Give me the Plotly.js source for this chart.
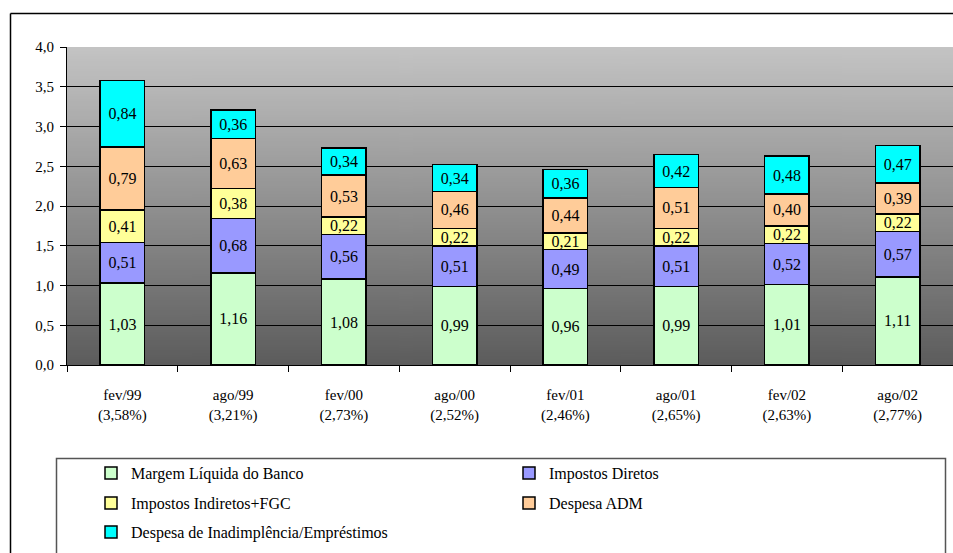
<!DOCTYPE html>
<html>
<head>
<meta charset="utf-8">
<script src="https://cdn.plot.ly/plotly-3.0.1.min.js"></script>
<style>
html,body{margin:0;padding:0;background:#fff;}
#chart{width:953px;height:553px;}
</style>
</head>
<body>
<div id="chart"></div>
<script>
const periods = ['fev/99','ago/99','fev/00','ago/00','fev/01','ago/01','fev/02','ago/02'];
const totals = ['3,58%','3,21%','2,73%','2,52%','2,46%','2,65%','2,63%','2,77%'];

const margem = [1.03, 1.16, 1.08, 0.99, 0.96, 0.99, 1.01, 1.11];
const impDiretos = [0.51, 0.68, 0.56, 0.51, 0.49, 0.51, 0.52, 0.57];
const impIndiretos = [0.41, 0.38, 0.22, 0.22, 0.21, 0.22, 0.22, 0.22];
const despAdm = [0.79, 0.63, 0.53, 0.46, 0.44, 0.51, 0.40, 0.39];
const despInad = [0.84, 0.36, 0.34, 0.34, 0.36, 0.42, 0.48, 0.47];

const seriesNames = ['Margem Líquida do Banco','Impostos Diretos','Impostos Indiretos+FGC','Despesa ADM','Despesa de Inadimplência/Empréstimos'];
const seriesColors = ['#CCFFCC','#9999FF','#FFFF99','#FFCC99','#00FFFF'];
const seriesValues = [margem, impDiretos, impIndiretos, despAdm, despInad];
const seriesLegend = ['legend','legend','legend2','legend2','legend3'];

const categories = periods.map((p, i) => p + '<br>(' + totals[i] + ')');

const FONT = 'Liberation Serif';

const traces = seriesValues.map((vals, k) => ({
  type: 'bar',
  name: seriesNames[k],
  legend: seriesLegend[k],
  x: categories,
  y: vals,
  marker: {color: seriesColors[k], line: {color: '#000', width: 1.5}},
  texttemplate: '%{y:.2f}',
  textposition: 'inside',
  insidetextanchor: 'middle',
  textangle: 0,
  textfont: {family: FONT, size: 16, color: '#000'},
  hoverinfo: 'skip'
}));

// gradient background image
const cv = document.createElement('canvas');
cv.width = 4; cv.height = 256;
const ctx = cv.getContext('2d');
const g = ctx.createLinearGradient(0, 0, 0, 256);
g.addColorStop(0, '#c4c4c4');
g.addColorStop(1, '#5c5c5c');
ctx.fillStyle = g;
ctx.fillRect(0, 0, 4, 256);
const bgUrl = cv.toDataURL('image/png');

const W = 953, H = 553;
const mL = 67, mR = 0, mT = 47, mB = 188;
const pw = W - mL - mR, ph = H - mT - mB;
const px = X => (X - mL) / pw;
const py = Y => (H - mB - Y) / ph;

const legendBase = {
  orientation: 'h',
  traceorder: 'normal',
  x: px(91), xanchor: 'left',
  yanchor: 'middle',
  entrywidth: 373, entrywidthmode: 'pixels',
  bgcolor: 'rgba(0,0,0,0)',
  borderwidth: 0,
  font: {family: FONT, size: 16, color: '#000'}
};

const layout = {
  width: W, height: H,
  margin: {l: mL, r: mR, t: mT, b: mB, pad: 0},
  paper_bgcolor: '#ffffff',
  plot_bgcolor: 'rgba(0,0,0,0)',
  separators: ',.',
  barmode: 'stack',
  bargap: 0.6,
  showlegend: true,
  uniformtext: {mode: 'show', minsize: 16},
  font: {family: FONT, size: 15, color: '#000'},
  xaxis: {
    type: 'category',
    showline: true, linecolor: '#000', linewidth: 1,
    ticks: 'outside', ticklen: 6, tickcolor: '#000', tickson: 'boundaries',
    ticklabelstandoff: 16,
    tickfont: {family: FONT, size: 15, color: '#000'},
    showgrid: false, fixedrange: true
  },
  yaxis: {
    range: [0, 4], dtick: 0.5, tickformat: '.1f',
    showline: true, linecolor: '#000', linewidth: 1,
    ticks: 'outside', ticklen: 6, tickcolor: '#000',
    ticklabelstandoff: 3,
    showgrid: true, gridcolor: '#000', gridwidth: 1,
    zeroline: false,
    tickfont: {family: FONT, size: 15, color: '#000'},
    fixedrange: true
  },
  legend: Object.assign({}, legendBase, {y: py(473)}),
  legend2: Object.assign({}, legendBase, {y: py(503)}),
  legend3: Object.assign({}, legendBase, {y: py(532)}),
  images: [{
    source: bgUrl, xref: 'paper', yref: 'paper',
    x: 0, y: 1, sizex: 1, sizey: 1, sizing: 'stretch',
    xanchor: 'left', yanchor: 'top', layer: 'below'
  }],
  shapes: [
    {type: 'line', xref: 'paper', yref: 'paper', x0: px(10.5), x1: px(960), y0: py(13.5), y1: py(13.5), line: {color: '#000', width: 1.5}},
    {type: 'line', xref: 'paper', yref: 'paper', x0: px(10.5), x1: px(10.5), y0: py(13.5), y1: py(560), line: {color: '#000', width: 1.5}},
    {type: 'rect', xref: 'paper', yref: 'paper', x0: px(56.5), x1: px(945.5), y0: py(458.5), y1: py(570), line: {color: '#555', width: 1.5}}
  ]
};

Plotly.newPlot('chart', traces, layout, {displayModeBar: false, staticPlot: true});
</script>
</body>
</html>
